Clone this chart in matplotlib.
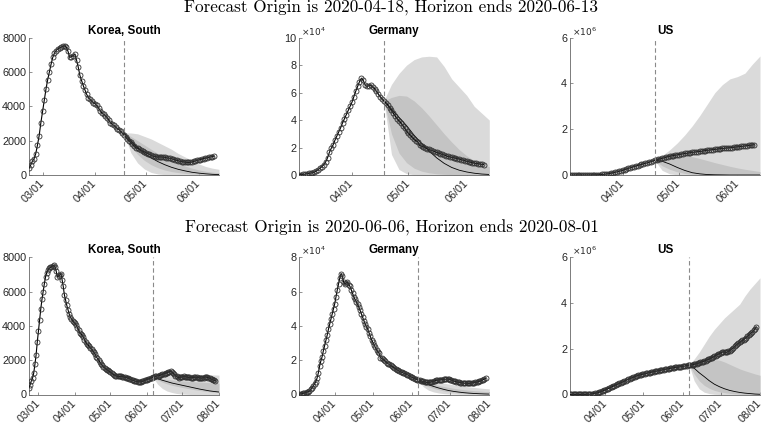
import numpy as np
import matplotlib
matplotlib.use('Agg')
import matplotlib.pyplot as plt
import matplotlib.dates as mdates

# observed active cases, one value per day from the start date
korea_start = '2020-02-22'
korea = [400, 580, 800, 950, 1250, 1750, 2300, 3050, 3700, 4350,
         5000, 5550, 6000, 6450, 6850, 7100, 7250, 7350, 7400, 7450,
         7500, 7530, 7450, 7200, 6850, 6900, 6950, 7050, 6700, 6300,
         5800, 5500, 5200, 4950, 4700, 4500, 4400, 4300, 4200, 4150,
         4050, 3900, 3750, 3600, 3550, 3450, 3350, 3200, 3050, 2950,
         2900, 2800, 2700, 2650, 2550, 2450, 2350, 2200, 2100, 2000,
         1900, 1800, 1700, 1600, 1550, 1500, 1450, 1400, 1350, 1300,
         1250, 1200, 1150, 1100, 1080, 1050, 1050, 1050, 1050, 1040,
         1030, 1000, 990, 980, 950, 920, 880, 850, 830, 800,
         780, 760, 750, 740, 730, 740, 760, 790, 820, 850,
         870, 900, 930, 960, 980, 1000, 1020, 1050, 1070, 1100,
         1100, 1120, 1150, 1170, 1200, 1220, 1250, 1280, 1300, 1330,
         1350, 1320, 1250, 1180, 1100, 1050, 1000, 980, 1000, 1020,
         1030, 1050, 1040, 1030, 1010, 1000, 1000, 990, 980, 990,
         1000, 1010, 1000, 990, 980, 960, 950, 970, 990, 1010,
         1020, 1000, 980, 960, 920, 880, 850, 820, 800]

germany_start = '2020-03-04'
germany_k = [0.2, 0.3, 0.5, 0.6, 0.9, 1.1, 1.4, 1.6, 2.0, 3.0,
             3.8, 5.0, 6.0, 7.5, 9.5, 12.5, 16.5, 19.5, 22.0, 25.5,
             28.5, 31.5, 34.5, 38.0, 41.0, 44.0, 47.0, 50.0, 53.0, 57.0,
             61.0, 64.5, 68.0, 70.5, 69.0, 65.5, 64.5, 65.0, 65.5, 64.0,
             63.0, 61.0, 59.0, 57.0, 55.5, 54.0, 52.5, 51.0, 49.0, 47.0,
             45.0, 43.0, 41.0, 39.5, 38.0, 36.0, 34.0, 32.0, 30.5, 29.0,
             27.5, 26.0, 25.0, 24.0, 21.5, 21.0, 20.5, 20.0, 19.3, 18.6,
             18.0, 17.5, 17.0, 16.5, 16.0, 15.5, 15.0, 14.5, 14.0, 13.5,
             13.2, 12.9, 12.6, 12.3, 12.0, 11.6, 11.2, 10.8, 10.4, 10.0,
             9.7, 9.3, 9.0, 8.7, 8.4, 8.2, 8.0, 7.8, 7.6, 7.4,
             7.2, 7.0, 7.0, 7.1, 7.3, 7.5, 7.8, 8.0, 8.2, 8.3,
             8.4, 8.5, 8.6, 8.7, 8.8, 8.9, 9.0, 9.0, 8.9, 8.7,
             8.4, 8.1, 7.8, 7.6, 7.4, 7.2, 7.0, 6.9, 6.8, 6.7,
             6.6, 6.6, 6.5, 6.5, 6.5, 6.6, 6.7, 6.8, 6.9, 7.0,
             7.2, 7.4, 7.6, 7.9, 8.2, 8.6, 9.0, 9.4]

us_start = '2020-03-04'
us_k = [0.1, 0.15, 0.2, 0.3, 0.4, 0.5, 0.9, 1.2, 1.6, 2.1,
        2.7, 3.4, 4.5, 6.2, 7.7, 13, 18, 24, 32, 42,
        52, 64, 82, 100, 120, 138, 158, 180, 205, 232,
        260, 290, 315, 340, 365, 390, 415, 440, 465, 490,
        510, 530, 555, 580, 610, 640, 665, 690, 710, 730,
        750, 775, 800, 820, 835, 850, 865, 880, 895, 910,
        925, 940, 950, 960, 975, 990, 1000, 1010, 1020, 1030,
        1040, 1055, 1070, 1080, 1090, 1100, 1110, 1120, 1130, 1140,
        1150, 1160, 1170, 1180, 1185, 1190, 1200, 1210, 1220, 1230,
        1240, 1250, 1260, 1270, 1280, 1290, 1300, 1310, 1320, 1330,
        1345, 1360, 1380, 1400, 1420, 1440, 1460, 1480, 1505, 1530,
        1555, 1580, 1610, 1640, 1670, 1700, 1730, 1760, 1790, 1820,
        1850, 1860, 1850, 1840, 1850, 1880, 1920, 1960, 2000, 2050,
        2100, 2150, 2200, 2240, 2280, 2320, 2360, 2400, 2440, 2490,
        2540, 2590, 2640, 2690, 2740, 2800, 2860, 2950]

origins = ['2020-04-18', '2020-06-06']
horizons = ['2020-06-13', '2020-08-01']
fc_step = 4  # days between forecast points

# forecasts, row 1 (origin 2020-04-18)
k1_med = [2450, 2000, 1600, 1250, 1000, 780, 600, 450, 330, 240, 160, 110, 70, 40, 25]
k1_in_hi = [2450, 2250, 2000, 1750, 1500, 1250, 1050, 850, 680, 520, 400, 300, 220, 170, 130]
k1_in_lo = [2450, 1700, 1200, 850, 600, 420, 290, 200, 140, 95, 65, 45, 30, 20, 15]
k1_out_hi = [2450, 2450, 2400, 2250, 2100, 1900, 1700, 1500, 1250, 1050, 850, 650, 500, 400, 330]
k1_out_lo = [2450, 1300, 700, 350, 150, 60, 20, 5, 0, 0, 0, 0, 0, 0, 0]

g1_med = [54, 48, 42, 36, 29, 23, 17.5, 12.5, 8.5, 5.5, 3.5, 2.2, 1.3, 0.7, 0.4]
g1_in_hi = [54, 56.5, 58, 57.5, 54, 49, 43, 36.5, 30, 24, 18.5, 14, 10.5, 8, 6]
g1_in_lo = [54, 30, 16, 9, 5, 2.8, 1.6, 0.9, 0.5, 0.3, 0.2, 0.1, 0.1, 0, 0]
g1_out_hi = [54, 66, 74, 80, 84, 86, 86.5, 86, 79, 70, 64, 58, 50, 45, 40]
g1_out_lo = [54, 15, 4, 1, 0.2, 0, 0, 0, 0, 0, 0, 0, 0, 0, 0]

u1_med = [650, 600, 480, 330, 200, 100, 50, 20, 10, 5, 0, 0, 0, 0, 0]
u1_in_hi = [650, 800, 850, 870, 850, 800, 720, 630, 540, 460, 380, 310, 250, 200, 150]
u1_in_lo = [650, 400, 250, 140, 70, 30, 10, 5, 0, 0, 0, 0, 0, 0, 0]
u1_out_hi = [650, 850, 1100, 1400, 1750, 2150, 2600, 3100, 3600, 3950, 4200, 4300, 4450, 4850, 5200]
u1_out_lo = [650, 200, 50, 10, 0, 0, 0, 0, 0, 0, 0, 0, 0, 0, 0]

# forecasts, row 2 (origin 2020-06-06)
k2_med = [1000, 920, 830, 750, 670, 610, 550, 490, 430, 370, 310, 260, 210, 175, 145]
k2_in_hi = [1000, 960, 920, 880, 850, 820, 800, 780, 760, 740, 720, 710, 690, 675, 660]
k2_in_lo = [1000, 840, 720, 620, 540, 480, 420, 370, 320, 270, 230, 190, 160, 130, 110]
k2_out_hi = [1000, 1100, 1150, 1180, 1200, 1200, 1200, 1200, 1190, 1180, 1170, 1160, 1150, 1140, 1130]
k2_out_lo = [1000, 600, 350, 200, 120, 60, 30, 15, 0, 0, 0, 0, 0, 0, 0]

g2_med = [8, 6.8, 5.7, 4.7, 3.8, 3.0, 2.3, 1.8, 1.4, 1.05, 0.8, 0.6, 0.45, 0.33, 0.25]
g2_in_hi = [8, 7.4, 6.7, 6.0, 5.3, 4.7, 4.1, 3.6, 3.2, 2.8, 2.5, 2.2, 2.0, 1.8, 1.6]
g2_in_lo = [8, 6.0, 4.6, 3.6, 2.8, 2.1, 1.6, 1.2, 0.9, 0.7, 0.55, 0.42, 0.32, 0.25, 0.2]
g2_out_hi = [8, 8.2, 8.0, 7.6, 7.1, 6.6, 6.1, 5.6, 5.2, 4.8, 4.4, 4.1, 3.8, 3.5, 3.3]
g2_out_lo = [8, 4.5, 2.5, 1.5, 0.9, 0.5, 0.3, 0.2, 0.1, 0.05, 0, 0, 0, 0, 0]

u2_med = [1300, 1150, 950, 780, 600, 450, 340, 250, 180, 130, 90, 60, 40, 20, 10]
u2_in_hi = [1300, 1400, 1470, 1500, 1520, 1520, 1500, 1420, 1320, 1220, 1120, 1040, 970, 900, 840]
u2_in_lo = [1300, 900, 600, 400, 270, 180, 120, 80, 50, 30, 20, 10, 0, 0, 0]
u2_out_hi = [1300, 1550, 1850, 2200, 2550, 2850, 3100, 3350, 3550, 3750, 3950, 4300, 4600, 4850, 5100]
u2_out_lo = [1300, 600, 250, 100, 40, 10, 0, 0, 0, 0, 0, 0, 0, 0, 0]

countries = ['Korea, South', 'Germany', 'US']

GRID = '#666666'
TXT = '#262626'
LIGHT = '#dadada'
DARK = '#c4c4c4'


def day_axis(start, n):
    return np.datetime64(start) + np.arange(n)


def panel(ax, title, start, obs, scale, origin, horizon, fc, ymax, yticks, expo):
    'one country: forecast fan, observed circles, origin line'
    med, in_hi, in_lo, out_hi, out_lo = [np.asarray(a, float) / scale for a in fc]
    fx = np.datetime64(origin) + np.arange(len(med)) * fc_step
    ax.fill_between(fx, out_lo, out_hi, color=LIGHT, lw=0, zorder=1)
    ax.fill_between(fx, in_lo, in_hi, color=DARK, lw=0, zorder=2)
    ax.plot(fx, med, color='k', lw=0.6, zorder=3)

    end = np.datetime64(horizon) - 3
    x = day_axis(start, len(obs))
    y = np.asarray(obs, float) / scale
    keep = x <= end
    ax.plot(x[keep], y[keep], '-o', color='k', lw=0.8, ms=3.6, mfc='none',
            mec='#303030', mew=0.6, zorder=4)
    ax.axvline(np.datetime64(origin), color='#8a8a8a', lw=0.8,
               dashes=(4, 2.5), zorder=5)

    ax.set_xlim(np.datetime64(start), np.datetime64(horizon))
    ax.set_ylim(0, ymax)
    ax.set_yticks(yticks)
    ax.xaxis.set_major_locator(mdates.MonthLocator())
    ax.xaxis.set_major_formatter(mdates.DateFormatter('%m/%d'))
    for lab in ax.get_xticklabels():
        lab.set_rotation(45)
        lab.set_ha('right')
        lab.set_va('center')
        lab.set_rotation_mode('anchor')
    for s in ['top', 'right']:
        ax.spines[s].set_visible(False)
    for s in ['left', 'bottom']:
        ax.spines[s].set_color(GRID)
        ax.spines[s].set_linewidth(0.6)
    ax.tick_params(direction='in', length=2, width=0.5, color=GRID,
                   labelcolor=TXT, labelsize=7.8, pad=2)
    ax.tick_params(axis='x', pad=5)
    ax.set_title(title, fontsize=8.4, fontweight='bold', pad=3,
                 family='Liberation Sans')
    for lab in ax.get_xticklabels() + ax.get_yticklabels():
        lab.set_family('Liberation Sans')
    if expo:
        ax.text(0.01, 1.0, r'$\times10^{%d}$' % expo, transform=ax.transAxes,
                fontsize=6.5, color=TXT, va='bottom', ha='left')


fig = plt.figure(figsize=(7.67, 4.25), dpi=100)

lefts = [29 / 767, 299.3 / 767, 570 / 767]
width = 190 / 767
bottoms = [1 - 175 / 425, 1 - 394.5 / 425]
height = 137.3 / 425

row_fc = [
    [(k1_med, k1_in_hi, k1_in_lo, k1_out_hi, k1_out_lo),
     (g1_med, g1_in_hi, g1_in_lo, g1_out_hi, g1_out_lo),
     (u1_med, u1_in_hi, u1_in_lo, u1_out_hi, u1_out_lo)],
    [(k2_med, k2_in_hi, k2_in_lo, k2_out_hi, k2_out_lo),
     (g2_med, g2_in_hi, g2_in_lo, g2_out_hi, g2_out_lo),
     (u2_med, u2_in_hi, u2_in_lo, u2_out_hi, u2_out_lo)],
]
starts = [korea_start, germany_start, us_start]
series = [korea, germany_k, us_k]
# value divisor for each country (Germany/US kept in thousands)
scales = [1, 10, 1000]
exps = [0, 4, 6]
ymaxes = [[8000, 10, 6], [8000, 8, 6]]

for r in range(2):
    for c in range(3):
        ax = fig.add_axes([lefts[c], bottoms[r], width, height])
        ymax = ymaxes[r][c]
        step = 2000 if c == 0 else 2
        yt = np.arange(0, ymax + step / 2, step)
        panel(ax, countries[c], starts[c], series[c], scales[c], origins[r],
              horizons[r], row_fc[r][c], ymax, yt, exps[c])
    fig.text(391.5 / 767, 1 - (8.3 if r == 0 else 227.7) / 425,
             'Forecast Origin is %s, Horizon ends %s' % (origins[r], horizons[r]),
             ha='center', va='center', fontsize=12.3, family='cmr10', color='k')

fig.savefig('out.png', dpi=100)
